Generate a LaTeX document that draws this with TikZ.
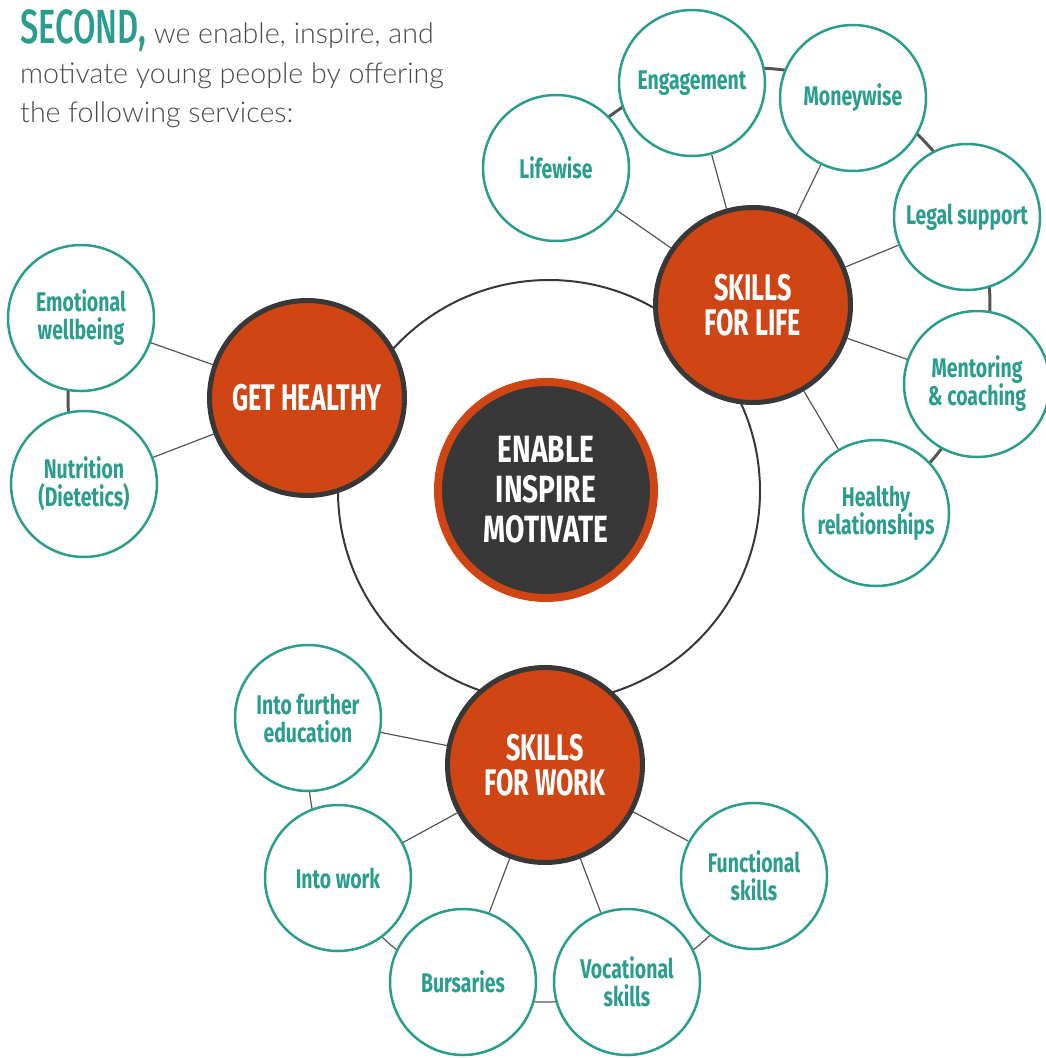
\documentclass[tikz,border=0pt]{standalone}
\usepackage{fontspec}
\IfFontExistsTF{Lato Light}{\setmainfont{Lato Light}}{\setmainfont{Lato}}
\newfontfamily\oswleaf{Fira Sans}[FakeStretch=0.72]
\newfontfamily\oswhub{Fira Sans}[FakeStretch=0.68]
\newfontfamily\oswcore{Fira Sans}[FakeStretch=0.74]
\IfFontExistsTF{Fira Sans Medium}{\newfontfamily\oswhead{Fira Sans Medium}[FakeStretch=0.68]}{\newfontfamily\oswhead{Fira Sans}[FakeStretch=0.70]}
\usetikzlibrary{backgrounds}
\definecolor{tealc}{HTML}{2A9D8D}
\definecolor{hubor}{HTML}{CF4514}
\definecolor{darkg}{HTML}{383838}
\definecolor{lineg}{HTML}{555555}
\definecolor{txtg}{HTML}{4A4A4A}
\newcommand\hubfont{\oswhub\bfseries\fontsize{37}{35}\selectfont}
\newcommand\corefont{\oswcore\bfseries\fontsize{38}{40}\selectfont}
\newcommand\leaffont{\oswleaf\bfseries\fontsize{27}{28}\selectfont}
\begin{document}
\begin{tikzpicture}[x=1pt,y=-1pt,
  hub/.style={circle, fill=hubor, draw=darkg, line width=5pt, minimum size=195pt, inner sep=0pt, text=white, align=center, font=\hubfont},
  core/.style={circle, fill=darkg, draw=hubor, line width=8pt, minimum size=216pt, inner sep=0pt, text=white, align=center, font=\corefont},
  leaf/.style={circle, fill=white, draw=tealc, line width=2.5pt, minimum size=146pt, inner sep=0pt, text=tealc, align=center, font=\leaffont},
  spoke/.style={draw=lineg, line width=1.2pt},
  ring/.style={draw=lineg, line width=3pt},
  thinring/.style={draw=lineg, line width=1.2pt},
  bigring/.style={draw=darkg, line width=2pt},
  hdr/.style={anchor=base west, inner sep=0pt, text=txtg, font=\fontsize{28.6}{30}\selectfont}
]
\useasboundingbox (0,0) rectangle (1045,1058);

% header
\node[hdr] (hdr1) at (20,43) {{\oswhead\color{tealc}\fontsize{48}{48}\selectfont SECOND,} we enable, inspire, and};
\node[hdr] (hdr2) at (20,83) {motivate young people by offering};
\node[hdr] (hdr3) at (20,122) {the following services:};

% centre and hubs
\node[core] (core) at (546,490) {ENABLE\\INSPIRE\\MOTIVATE};
\node[hub] (life) at (753,305) {SKILLS\\FOR LIFE};
\node[hub] (health) at (307,398) {GET HEALTHY};
\node[hub] (work) at (545,765) {SKILLS\\FOR WORK};

% skills for life leaves
\node[leaf] (lifewise) at (556,168) {Lifewise};
\node[leaf] (engage) at (692,83) {Engagement};
\node[leaf] (money) at (853,98) {Moneywise};
\node[leaf] (legal) at (967,217) {Legal support};
\node[leaf] (mentor) at (977,384) {Mentoring\\\& coaching};
\node[leaf] (healthy) at (876,513) {Healthy\\relationships};

% get healthy leaves
\node[leaf] (emot) at (81,318) {Emotional\\wellbeing};
\node[leaf] (nutri) at (84,484) {Nutrition\\(Dietetics)};

% skills for work leaves
\node[leaf] (further) at (308,718) {Into further\\education};
\node[leaf] (intowork) at (338,878) {Into work};
\node[leaf] (burs) at (463,982) {Bursaries};
\node[leaf] (voc) at (627,982) {Vocational\\skills};
\node[leaf] (func) at (754,876) {Functional\\skills};

\begin{scope}[on background layer]
  \draw[bigring] (549,491) circle[radius=211];
  \draw[ring] ([shift={(214.8:237)}]life.center) arc[start angle=214.8, end angle=419.4, radius=237];
  \draw[ring] ([shift={(158.9:239)}]health.center) arc[start angle=158.9, end angle=199.5, radius=239];
  \draw[thinring] ([shift={(27.9:237)}]work.center) arc[start angle=27.9, end angle=191.2, radius=237];
  \foreach \n in {lifewise,engage,money,legal,mentor,healthy}
    \draw[spoke] (life) -- (\n);
  \foreach \n in {emot,nutri}
    \draw[spoke] (health) -- (\n);
  \foreach \n in {further,intowork,burs,voc,func}
    \draw[spoke] (work) -- (\n);
\end{scope}
\end{tikzpicture}
\end{document}
